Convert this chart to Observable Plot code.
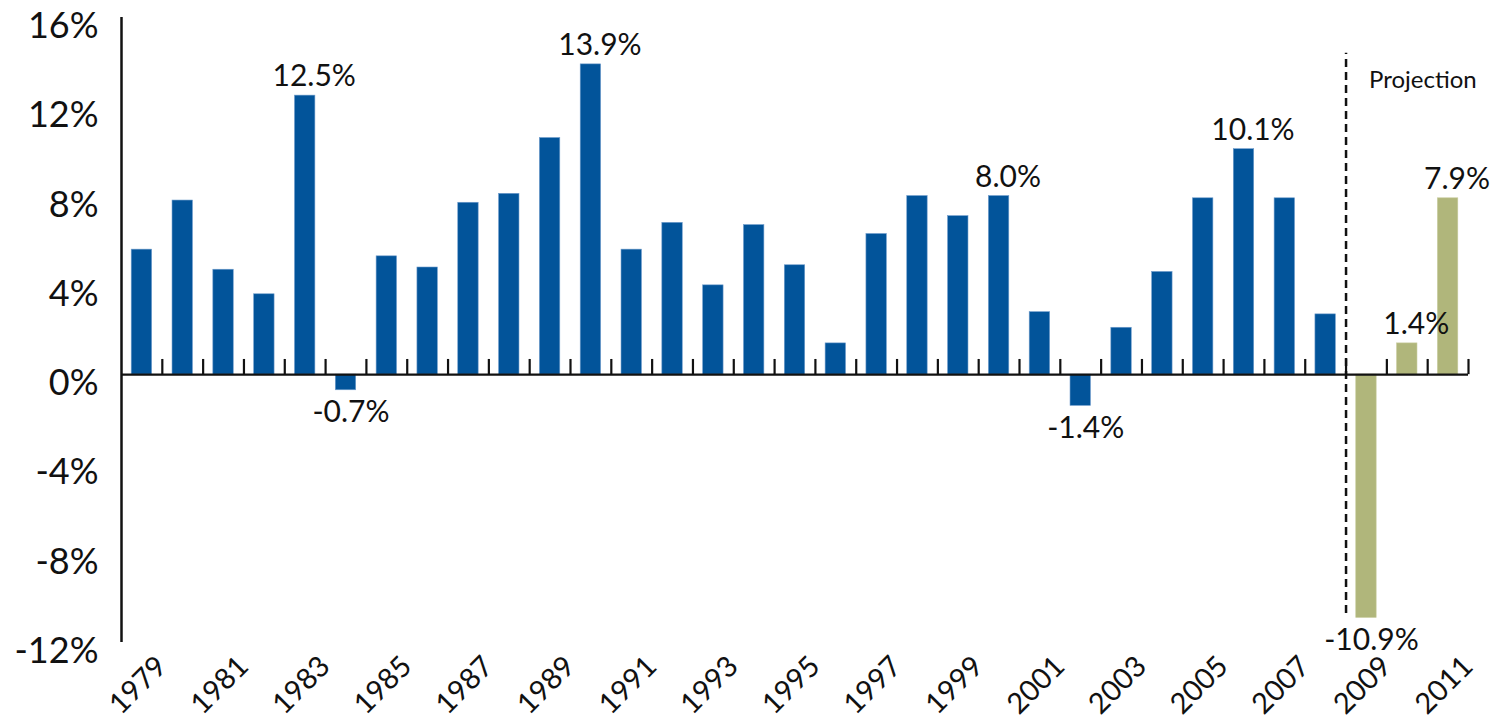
<!DOCTYPE html>
<html>
<head>
<meta charset="utf-8">
<script src="https://cdn.jsdelivr.net/npm/d3@7"></script>
<script src="https://cdn.jsdelivr.net/npm/@observablehq/plot@0.6"></script>
<style>
  html, body { margin: 0; padding: 0; background: #ffffff; }
  #chart svg { display: block; background: linear-gradient(to bottom, #ffffff 0%, #ffffff 25%, #f6f7fb 55%, #e8ecf6 100%); }
</style>
</head>
<body>
<div id="chart"></div>
<script>
const years = ["1979","1980","1981","1982","1983","1984","1985","1986","1987","1988","1989","1990","1991","1992","1993","1994","1995","1996","1997","1998","1999","2000","2001","2002","2003","2004","2005","2006","2007","2008","2009","2010","2011"];
const values = [5.6,7.8,4.7,3.6,12.5,-0.7,5.3,4.8,7.7,8.1,10.6,13.9,5.6,6.8,4.0,6.7,4.9,1.4,6.3,8.0,7.1,8.0,2.8,-1.4,2.1,4.6,7.9,10.1,7.9,2.7,-10.9,1.4,7.9];
const projectionYears = ["2009","2010","2011"];
const labeledYears = ["1983","1984","1990","2000","2002","2006","2009","2010","2011"];
const yTicks = [-12,-8,-4,0,4,8,12,16];
const xTickLabels = years.filter((d, i) => i % 2 === 0);

const data = years.map((year, i) => ({year, value: values[i], projection: projectionYears.includes(year)}));
const labeled = data.filter(d => labeledYears.includes(d.year));

const W = 1495, H = 720;
const mL = 121, mR = 27, mT = 17, mB = 78;
const bw = (W - mL - mR) / years.length;
const FONT = "Lato, 'Open Sans', sans-serif";

const chart = Plot.plot({
  width: W,
  height: H,
  marginLeft: mL,
  marginRight: mR,
  marginTop: mT,
  marginBottom: mB,
  style: {fontFamily: FONT, color: "#111", background: "transparent"},
  x: {domain: years, padding: 0, round: false},
  y: {domain: [-12, 16]},
  marks: [
    Plot.barY(data, {
      x: "year", y: "value",
      fill: d => d.projection ? "#b0b67b" : "#02549a",
      stroke: d => d.projection ? "#c8cc9e" : "#6f9ccc",
      strokeWidth: 0.6,
      insetLeft: bw * 0.25, insetRight: bw * 0.25
    }),
    Plot.ruleY([0], {stroke: "#111", strokeWidth: 2.2}),
    Plot.ruleX(years, {x: d => d, y1: 0, y2: 0.68, dx: bw / 2, stroke: "#111", strokeWidth: 2.2}),
    Plot.ruleX([years[0]], {y1: -12, y2: 16, dx: -bw / 2, stroke: "#111", strokeWidth: 2.5}),
    Plot.ruleX(["2009"], {y1: -10.7, y2: 14.4, dx: -bw / 2, stroke: "#111", strokeWidth: 2.5, strokeDasharray: "8,5"}),
    Plot.text(["Projection"], {x: () => "2009", y: () => 13.2, text: d => d, dx: -bw / 2 + 23, textAnchor: "start", fontSize: 24, fill: "#111"}),
    Plot.text(labeled.filter(d => d.value >= 0), {x: "year", y: "value", text: d => d.value.toFixed(1) + "%", dy: -19, dx: 9, fontSize: 30, fill: "#111"}),
    Plot.text(labeled.filter(d => d.value < 0), {x: "year", y: "value", text: d => d.value.toFixed(1) + "%", dy: 22, dx: 5, fontSize: 30, fill: "#111"}),
    Plot.axisY({ticks: yTicks, tickSize: 0, tickPadding: 23, tickFormat: d => d + "%", fontSize: 36, dy: 9, label: null}),
    Plot.axisX({ticks: xTickLabels, tickSize: 0, tickRotate: -45, fontSize: 29, tickPadding: 6, dx: 20, dy: 13, label: null})
  ]
});
document.getElementById("chart").appendChild(chart);
</script>
</body>
</html>
